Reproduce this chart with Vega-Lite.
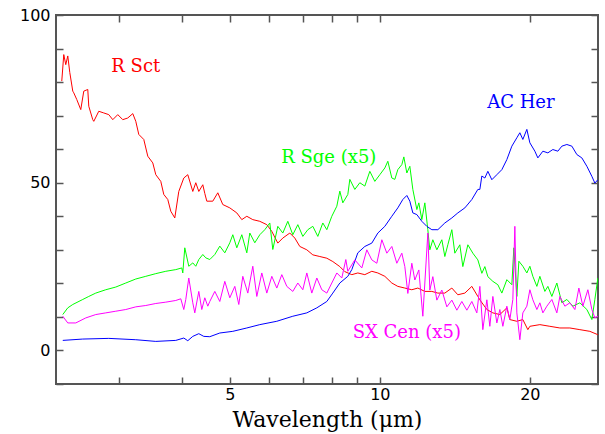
{
  "$schema": "https://vega.github.io/schema/vega-lite/v6.json",
  "autosize": {"type": "none"},
  "padding": {"left": 56, "top": 15, "right": 7, "bottom": 50},
  "width": 542,
  "height": 369,
  "config": {"view": {"stroke": "#555555", "strokeWidth": 2}},
  "datasets": {
    "spec": [
      {"s":"R Sct","w":2.3005,"f":80.3},{"s":"R Sct","w":2.3219,"f":88.2},{"s":"R Sct","w":2.3435,"f":85.2},{"s":"R Sct","w":2.3653,"f":87.8},{"s":"R Sct","w":2.3872,"f":82.9},{"s":"R Sct","w":2.4205,"f":77.3},{"s":"R Sct","w":2.4317,"f":76.8},{"s":"R Sct","w":2.4657,"f":74.8},{"s":"R Sct","w":2.5116,"f":71.8},{"s":"R Sct","w":2.5467,"f":77.3},{"s":"R Sct","w":2.5942,"f":77.8},{"s":"R Sct","w":2.6062,"f":72.8},{"s":"R Sct","w":2.6547,"f":68.8},{"s":"R Sct","w":2.6671,"f":68.3},{"s":"R Sct","w":2.7294,"f":71.3},{"s":"R Sct","w":2.7932,"f":70.8},{"s":"R Sct","w":2.8585,"f":70.3},{"s":"R Sct","w":2.9118,"f":68.8},{"s":"R Sct","w":2.9799,"f":70.3},{"s":"R Sct","w":3.0495,"f":68.8},{"s":"R Sct","w":3.1208,"f":69.3},{"s":"R Sct","w":3.1938,"f":70.6},{"s":"R Sct","w":3.2384,"f":68.3},{"s":"R Sct","w":3.2836,"f":64.4},{"s":"R Sct","w":3.3604,"f":62.9},{"s":"R Sct","w":3.4231,"f":57.9},{"s":"R Sct","w":3.503,"f":55.9},{"s":"R Sct","w":3.552,"f":52.4},{"s":"R Sct","w":3.635,"f":50.4},{"s":"R Sct","w":3.6857,"f":46.5},{"s":"R Sct","w":3.7545,"f":45.0},{"s":"R Sct","w":3.8068,"f":41.5},{"s":"R Sct","w":3.8779,"f":39.5},{"s":"R Sct","w":3.9503,"f":47.4},{"s":"R Sct","w":4.0426,"f":51.4},{"s":"R Sct","w":4.118,"f":52.4},{"s":"R Sct","w":4.2142,"f":47.4},{"s":"R Sct","w":4.2731,"f":50.0},{"s":"R Sct","w":4.3328,"f":47.4},{"s":"R Sct","w":4.4136,"f":49.4},{"s":"R Sct","w":4.4546,"f":46.8},{"s":"R Sct","w":4.496,"f":44.5},{"s":"R Sct","w":4.6222,"f":44.5},{"s":"R Sct","w":4.7303,"f":47},{"s":"R Sct","w":4.8408,"f":43.5},{"s":"R Sct","w":5.0,"f":42.5},{"s":"R Sct","w":5.1645,"f":41},{"s":"R Sct","w":5.285,"f":39},{"s":"R Sct","w":5.4087,"f":40},{"s":"R Sct","w":5.5607,"f":39},{"s":"R Sct","w":5.7435,"f":38.5},{"s":"R Sct","w":5.9324,"f":37.5},{"s":"R Sct","w":6.0708,"f":35.5},{"s":"R Sct","w":6.2417,"f":32},{"s":"R Sct","w":6.3875,"f":33.5},{"s":"R Sct","w":6.5975,"f":35},{"s":"R Sct","w":6.7517,"f":33.5},{"s":"R Sct","w":6.9095,"f":31},{"s":"R Sct","w":7.1368,"f":30},{"s":"R Sct","w":7.3373,"f":28.5},{"s":"R Sct","w":7.5785,"f":28},{"s":"R Sct","w":7.8278,"f":27.5},{"s":"R Sct","w":8.0477,"f":26.5},{"s":"R Sct","w":8.3123,"f":25},{"s":"R Sct","w":8.5066,"f":23.5},{"s":"R Sct","w":8.786,"f":22.6},{"s":"R Sct","w":9.0333,"f":23.1},{"s":"R Sct","w":9.3303,"f":22.6},{"s":"R Sct","w":9.6367,"f":23.6},{"s":"R Sct","w":9.908,"f":23.1},{"s":"R Sct","w":10.234,"f":22.1},{"s":"R Sct","w":10.57,"f":20.1},{"s":"R Sct","w":10.867,"f":19.1},{"s":"R Sct","w":11.225,"f":18.6},{"s":"R Sct","w":11.593,"f":18.1},{"s":"R Sct","w":11.92,"f":18.6},{"s":"R Sct","w":12.311,"f":17.6},{"s":"R Sct","w":12.716,"f":17.6},{"s":"R Sct","w":13.074,"f":17.1},{"s":"R Sct","w":13.503,"f":17.1},{"s":"R Sct","w":13.947,"f":18.6},{"s":"R Sct","w":14.339,"f":16.6},{"s":"R Sct","w":14.811,"f":17.1},{"s":"R Sct","w":15.297,"f":19.1},{"s":"R Sct","w":15.728,"f":16.1},{"s":"R Sct","w":15.874,"f":15.1},{"s":"R Sct","w":16.396,"f":12.2},{"s":"R Sct","w":16.857,"f":11.2},{"s":"R Sct","w":17.411,"f":10.7},{"s":"R Sct","w":17.983,"f":12.7},{"s":"R Sct","w":18.234,"f":9.2},{"s":"R Sct","w":18.834,"f":8.7},{"s":"R Sct","w":19.363,"f":9.2},{"s":"R Sct","w":19.816,"f":6.2},{"s":"R Sct","w":20.0,"f":7.2},{"s":"R Sct","w":20.946,"f":7.7},{"s":"R Sct","w":21.936,"f":7.2},{"s":"R Sct","w":22.974,"f":6.7},{"s":"R Sct","w":24.06,"f":6.7},{"s":"R Sct","w":25.198,"f":6.2},{"s":"R Sct","w":26.39,"f":5.7},{"s":"R Sct","w":27.384,"f":4.7},

      {"s":"R Sge","w":2.3112,"f":10.7},{"s":"R Sge","w":2.3653,"f":12.7},{"s":"R Sge","w":2.4205,"f":13.7},{"s":"R Sge","w":2.5349,"f":15.2},{"s":"R Sge","w":2.6062,"f":16.1},{"s":"R Sge","w":2.6918,"f":17.1},{"s":"R Sge","w":2.8191,"f":18.1},{"s":"R Sge","w":2.9525,"f":18.9},{"s":"R Sge","w":3.0921,"f":20.1},{"s":"R Sge","w":3.2384,"f":21.3},{"s":"R Sge","w":3.3916,"f":22.1},{"s":"R Sge","w":3.552,"f":22.9},{"s":"R Sge","w":3.7199,"f":23.6},{"s":"R Sge","w":3.8959,"f":24.1},{"s":"R Sge","w":4.0052,"f":24.6},{"s":"R Sge","w":4.0239,"f":23.1},{"s":"R Sge","w":4.0613,"f":30.6},{"s":"R Sge","w":4.1371,"f":25.1},{"s":"R Sge","w":4.2142,"f":26.1},{"s":"R Sge","w":4.2731,"f":25.1},{"s":"R Sge","w":4.3328,"f":27.1},{"s":"R Sge","w":4.4136,"f":28.6},{"s":"R Sge","w":4.4752,"f":27.6},{"s":"R Sge","w":4.5586,"f":27.1},{"s":"R Sge","w":4.6652,"f":28.6},{"s":"R Sge","w":4.7742,"f":31.1},{"s":"R Sge","w":4.8858,"f":29.1},{"s":"R Sge","w":5.0,"f":32.1},{"s":"R Sge","w":5.0698,"f":34.5},{"s":"R Sge","w":5.1645,"f":30.6},{"s":"R Sge","w":5.285,"f":34.5},{"s":"R Sge","w":5.4087,"f":29.1},{"s":"R Sge","w":5.4841,"f":35},{"s":"R Sge","w":5.6123,"f":32.1},{"s":"R Sge","w":5.7435,"f":34.5},{"s":"R Sge","w":5.8778,"f":36},{"s":"R Sge","w":6.0151,"f":38},{"s":"R Sge","w":6.0991,"f":30.1},{"s":"R Sge","w":6.2417,"f":37},{"s":"R Sge","w":6.3875,"f":35},{"s":"R Sge","w":6.5369,"f":38.5},{"s":"R Sge","w":6.6896,"f":34.5},{"s":"R Sge","w":6.846,"f":37.5},{"s":"R Sge","w":7.006,"f":34},{"s":"R Sge","w":7.1698,"f":36},{"s":"R Sge","w":7.3373,"f":37},{"s":"R Sge","w":7.5089,"f":34},{"s":"R Sge","w":7.6843,"f":38},{"s":"R Sge","w":7.8278,"f":36},{"s":"R Sge","w":8.0104,"f":40},{"s":"R Sge","w":8.1979,"f":43},{"s":"R Sge","w":8.3123,"f":47.5},{"s":"R Sge","w":8.4283,"f":44},{"s":"R Sge","w":8.6254,"f":46.5},{"s":"R Sge","w":8.7054,"f":51},{"s":"R Sge","w":8.9089,"f":48},{"s":"R Sge","w":9.1171,"f":50},{"s":"R Sge","w":9.3303,"f":49},{"s":"R Sge","w":9.5483,"f":53.4},{"s":"R Sge","w":9.7715,"f":50.4},{"s":"R Sge","w":10.0,"f":52.4},{"s":"R Sge","w":10.234,"f":54.4},{"s":"R Sge","w":10.377,"f":56.4},{"s":"R Sge","w":10.57,"f":51.4},{"s":"R Sge","w":10.718,"f":51},{"s":"R Sge","w":10.867,"f":53.9},{"s":"R Sge","w":11.07,"f":55.4},{"s":"R Sge","w":11.173,"f":57.7},{"s":"R Sge","w":11.329,"f":52.9},{"s":"R Sge","w":11.487,"f":54.9},{"s":"R Sge","w":11.647,"f":48},{"s":"R Sge","w":11.865,"f":42},{"s":"R Sge","w":11.975,"f":44},{"s":"R Sge","w":12.141,"f":39},{"s":"R Sge","w":12.311,"f":44},{"s":"R Sge","w":12.483,"f":36},{"s":"R Sge","w":12.599,"f":30},{"s":"R Sge","w":12.775,"f":33},{"s":"R Sge","w":13.014,"f":30},{"s":"R Sge","w":13.317,"f":33},{"s":"R Sge","w":13.503,"f":28},{"s":"R Sge","w":13.692,"f":31.5},{"s":"R Sge","w":13.947,"f":36},{"s":"R Sge","w":14.142,"f":29},{"s":"R Sge","w":14.472,"f":31.5},{"s":"R Sge","w":14.674,"f":25},{"s":"R Sge","w":15.018,"f":31.5},{"s":"R Sge","w":15.369,"f":29},{"s":"R Sge","w":15.728,"f":27},{"s":"R Sge","w":16.021,"f":23},{"s":"R Sge","w":16.245,"f":25},{"s":"R Sge","w":16.472,"f":22},{"s":"R Sge","w":16.857,"f":20.6},{"s":"R Sge","w":17.251,"f":19.6},{"s":"R Sge","w":17.572,"f":17.1},{"s":"R Sge","w":17.983,"f":21.1},{"s":"R Sge","w":18.403,"f":19.6},{"s":"R Sge","w":18.574,"f":30.6},{"s":"R Sge","w":18.834,"f":16.1},{"s":"R Sge","w":19.009,"f":26.6},{"s":"R Sge","w":19.363,"f":25.1},{"s":"R Sge","w":19.724,"f":23.1},{"s":"R Sge","w":20.0,"f":25.1},{"s":"R Sge","w":20.279,"f":22.1},{"s":"R Sge","w":20.658,"f":19.1},{"s":"R Sge","w":20.946,"f":22.1},{"s":"R Sge","w":21.436,"f":17.6},{"s":"R Sge","w":21.735,"f":19.1},{"s":"R Sge","w":22.139,"f":16.1},{"s":"R Sge","w":22.657,"f":20.1},{"s":"R Sge","w":23.187,"f":14.2},{"s":"R Sge","w":23.73,"f":15.2},{"s":"R Sge","w":24.396,"f":13.2},{"s":"R Sge","w":25.198,"f":14.2},{"s":"R Sge","w":26.027,"f":12.2},{"s":"R Sge","w":26.634,"f":9.2},{"s":"R Sge","w":27.007,"f":15.2},{"s":"R Sge","w":27.384,"f":21.6},

      {"s":"AC Her","w":2.3112,"f":3.0},{"s":"AC Her","w":2.5349,"f":3.4},{"s":"AC Her","w":2.8585,"f":3.6},{"s":"AC Her","w":3.2384,"f":3.2},{"s":"AC Her","w":3.552,"f":2.7},{"s":"AC Her","w":3.8959,"f":3.0},{"s":"AC Her","w":4.0426,"f":3.7},{"s":"AC Her","w":4.118,"f":2.9},{"s":"AC Her","w":4.2142,"f":4.2},{"s":"AC Her","w":4.3328,"f":5.0},{"s":"AC Her","w":4.434,"f":4.2},{"s":"AC Her","w":4.5586,"f":4.1},{"s":"AC Her","w":4.7742,"f":5.2},{"s":"AC Her","w":5.0698,"f":5.7},{"s":"AC Her","w":5.4087,"f":6.7},{"s":"AC Her","w":5.7435,"f":7.7},{"s":"AC Her","w":6.2129,"f":8.7},{"s":"AC Her","w":6.6896,"f":10.2},{"s":"AC Her","w":7.1368,"f":11.2},{"s":"AC Her","w":7.4743,"f":12.7},{"s":"AC Her","w":7.8278,"f":14.6},{"s":"AC Her","w":8.0477,"f":17.1},{"s":"AC Her","w":8.3123,"f":20.1},{"s":"AC Her","w":8.6254,"f":22.1},{"s":"AC Her","w":8.786,"f":24.1},{"s":"AC Her","w":9.0333,"f":29.1},{"s":"AC Her","w":9.3303,"f":31},{"s":"AC Her","w":9.6367,"f":32},{"s":"AC Her","w":9.908,"f":35},{"s":"AC Her","w":10.234,"f":37},{"s":"AC Her","w":10.57,"f":40},{"s":"AC Her","w":10.867,"f":42.5},{"s":"AC Her","w":11.121,"f":45},{"s":"AC Her","w":11.329,"f":46.2},{"s":"AC Her","w":11.487,"f":44.5},{"s":"AC Her","w":11.647,"f":41},{"s":"AC Her","w":11.865,"f":40.5},{"s":"AC Her","w":12.141,"f":38.5},{"s":"AC Her","w":12.426,"f":37},{"s":"AC Her","w":12.716,"f":36},{"s":"AC Her","w":13.074,"f":36},{"s":"AC Her","w":13.503,"f":38},{"s":"AC Her","w":13.947,"f":39.5},{"s":"AC Her","w":14.339,"f":41},{"s":"AC Her","w":14.811,"f":42.5},{"s":"AC Her","w":15.297,"f":45},{"s":"AC Her","w":15.728,"f":48},{"s":"AC Her","w":15.874,"f":48},{"s":"AC Her","w":16.021,"f":52},{"s":"AC Her","w":16.245,"f":51.4},{"s":"AC Her","w":16.472,"f":53.4},{"s":"AC Her","w":16.778,"f":50.9},{"s":"AC Her","w":17.171,"f":52.4},{"s":"AC Her","w":17.572,"f":53.9},{"s":"AC Her","w":17.983,"f":56.9},{"s":"AC Her","w":18.403,"f":60.9},{"s":"AC Her","w":18.834,"f":63.4},{"s":"AC Her","w":19.096,"f":64.9},{"s":"AC Her","w":19.363,"f":62.9},{"s":"AC Her","w":19.724,"f":65.9},{"s":"AC Her","w":20.0,"f":61.9},{"s":"AC Her","w":20.468,"f":59.4},{"s":"AC Her","w":20.753,"f":57.4},{"s":"AC Her","w":21.238,"f":59.4},{"s":"AC Her","w":21.735,"f":58.9},{"s":"AC Her","w":22.242,"f":59.9},{"s":"AC Her","w":22.762,"f":59.4},{"s":"AC Her","w":23.187,"f":60.9},{"s":"AC Her","w":23.73,"f":61.4},{"s":"AC Her","w":24.283,"f":60.9},{"s":"AC Her","w":24.851,"f":58.4},{"s":"AC Her","w":25.431,"f":57.4},{"s":"AC Her","w":26.027,"f":54.9},{"s":"AC Her","w":26.634,"f":51.9},{"s":"AC Her","w":27.007,"f":49.9},{"s":"AC Her","w":27.384,"f":50.9},

      {"s":"SX Cen","w":2.3112,"f":10.2},{"s":"SX Cen","w":2.3653,"f":8.2},{"s":"SX Cen","w":2.4543,"f":8.2},{"s":"SX Cen","w":2.5703,"f":9.7},{"s":"SX Cen","w":2.6918,"f":10.7},{"s":"SX Cen","w":2.8191,"f":11.2},{"s":"SX Cen","w":2.9525,"f":11.7},{"s":"SX Cen","w":3.0921,"f":12.2},{"s":"SX Cen","w":3.2384,"f":13},{"s":"SX Cen","w":3.3916,"f":13.4},{"s":"SX Cen","w":3.552,"f":14},{"s":"SX Cen","w":3.7199,"f":14.4},{"s":"SX Cen","w":3.8959,"f":14.9},{"s":"SX Cen","w":3.9869,"f":15.4},{"s":"SX Cen","w":4.0426,"f":12.2},{"s":"SX Cen","w":4.0801,"f":15.2},{"s":"SX Cen","w":4.1371,"f":21.6},{"s":"SX Cen","w":4.2142,"f":14.2},{"s":"SX Cen","w":4.2534,"f":11.2},{"s":"SX Cen","w":4.3328,"f":17.6},{"s":"SX Cen","w":4.3931,"f":12.2},{"s":"SX Cen","w":4.4546,"f":15.7},{"s":"SX Cen","w":4.5168,"f":13.2},{"s":"SX Cen","w":4.5586,"f":14.6},{"s":"SX Cen","w":4.6652,"f":17.6},{"s":"SX Cen","w":4.7742,"f":14.6},{"s":"SX Cen","w":4.8858,"f":20.6},{"s":"SX Cen","w":5.0,"f":15.7},{"s":"SX Cen","w":5.1169,"f":19.1},{"s":"SX Cen","w":5.2124,"f":13.7},{"s":"SX Cen","w":5.3096,"f":22.1},{"s":"SX Cen","w":5.4338,"f":17.1},{"s":"SX Cen","w":5.5607,"f":25.1},{"s":"SX Cen","w":5.6645,"f":16.1},{"s":"SX Cen","w":5.7967,"f":23.1},{"s":"SX Cen","w":5.9324,"f":17.1},{"s":"SX Cen","w":6.0708,"f":22.1},{"s":"SX Cen","w":6.2129,"f":18.6},{"s":"SX Cen","w":6.3579,"f":22.6},{"s":"SX Cen","w":6.5068,"f":19.1},{"s":"SX Cen","w":6.6896,"f":17.6},{"s":"SX Cen","w":6.846,"f":20.1},{"s":"SX Cen","w":7.006,"f":18.1},{"s":"SX Cen","w":7.1368,"f":23.1},{"s":"SX Cen","w":7.3033,"f":17.1},{"s":"SX Cen","w":7.4743,"f":21.6},{"s":"SX Cen","w":7.6487,"f":18.1},{"s":"SX Cen","w":7.8278,"f":17.1},{"s":"SX Cen","w":8.0104,"f":20.1},{"s":"SX Cen","w":8.1979,"f":23.1},{"s":"SX Cen","w":8.3893,"f":21.6},{"s":"SX Cen","w":8.546,"f":27.1},{"s":"SX Cen","w":8.6254,"f":23.6},{"s":"SX Cen","w":8.9089,"f":27},{"s":"SX Cen","w":9.2015,"f":24.6},{"s":"SX Cen","w":9.417,"f":30},{"s":"SX Cen","w":9.6367,"f":27},{"s":"SX Cen","w":9.8623,"f":26},{"s":"SX Cen","w":10.093,"f":33},{"s":"SX Cen","w":10.329,"f":29},{"s":"SX Cen","w":10.57,"f":31},{"s":"SX Cen","w":10.817,"f":26},{"s":"SX Cen","w":11.07,"f":29},{"s":"SX Cen","w":11.225,"f":25},{"s":"SX Cen","w":11.381,"f":17},{"s":"SX Cen","w":11.593,"f":26},{"s":"SX Cen","w":11.755,"f":21},{"s":"SX Cen","w":11.975,"f":24},{"s":"SX Cen","w":12.198,"f":10.2},{"s":"SX Cen","w":12.483,"f":35},{"s":"SX Cen","w":12.599,"f":18},{"s":"SX Cen","w":12.775,"f":22},{"s":"SX Cen","w":13.014,"f":15},{"s":"SX Cen","w":13.317,"f":18},{"s":"SX Cen","w":13.629,"f":13},{"s":"SX Cen","w":13.947,"f":15},{"s":"SX Cen","w":14.273,"f":12},{"s":"SX Cen","w":14.606,"f":14.6},{"s":"SX Cen","w":14.948,"f":12},{"s":"SX Cen","w":15.297,"f":14.6},{"s":"SX Cen","w":15.655,"f":11.2},{"s":"SX Cen","w":15.874,"f":19.1},{"s":"SX Cen","w":16.095,"f":6.2},{"s":"SX Cen","w":16.396,"f":15.1},{"s":"SX Cen","w":16.624,"f":7.2},{"s":"SX Cen","w":16.857,"f":16.1},{"s":"SX Cen","w":17.171,"f":8.2},{"s":"SX Cen","w":17.411,"f":12.2},{"s":"SX Cen","w":17.654,"f":7.2},{"s":"SX Cen","w":17.983,"f":13.2},{"s":"SX Cen","w":18.234,"f":9.2},{"s":"SX Cen","w":18.489,"f":15.2},{"s":"SX Cen","w":18.66,"f":37},{"s":"SX Cen","w":18.834,"f":11.2},{"s":"SX Cen","w":19.096,"f":3.2},{"s":"SX Cen","w":19.363,"f":11.2},{"s":"SX Cen","w":19.724,"f":13.2},{"s":"SX Cen","w":20.0,"f":18.1},{"s":"SX Cen","w":20.279,"f":15.1},{"s":"SX Cen","w":20.658,"f":12.2},{"s":"SX Cen","w":20.946,"f":14.2},{"s":"SX Cen","w":21.238,"f":11.2},{"s":"SX Cen","w":21.635,"f":13.2},{"s":"SX Cen","w":22.139,"f":15.2},{"s":"SX Cen","w":22.657,"f":11.2},{"s":"SX Cen","w":22.974,"f":16.1},{"s":"SX Cen","w":23.511,"f":13.2},{"s":"SX Cen","w":24.06,"f":14.2},{"s":"SX Cen","w":24.623,"f":12.2},{"s":"SX Cen","w":25.082,"f":18.6},{"s":"SX Cen","w":25.55,"f":13.2},{"s":"SX Cen","w":26.147,"f":18.1},{"s":"SX Cen","w":26.634,"f":12.2},{"s":"SX Cen","w":27.007,"f":9.7},{"s":"SX Cen","w":27.384,"f":10.2}
    ],
    "labels": [
      {"s":"R Sct","txt":"R Sct","w":3.238,"f":84.6},
      {"s":"R Sge","txt":"R Sge (x5)","w":7.9,"f":57.5},
      {"s":"AC Her","txt":"AC Her","w":19.185,"f":73.9},
      {"s":"SX Cen","txt":"SX Cen (x5)","w":11.329,"f":5.3}
    ]
  },
  "resolve": {"axis": {"x": "independent", "y": "independent"}},
  "layer": [
    {
      "data": {"name": "spec"},
      "mark": {"type": "line", "strokeWidth": 1, "clip": true, "interpolate": "linear"},
      "encoding": {
        "x": {"field": "w", "type": "quantitative",
          "scale": {"type": "log", "domain": [2.24, 27.4], "nice": false},
          "axis": {"orient": "bottom", "values": [3,4,5,6,7,8,9,10,20], "labelExpr": "datum.value == 5 || datum.value == 10 || datum.value == 20 ? datum.label : ''",
            "domain": false, "grid": false, "tickSize": -7, "tickColor": "#555555", "tickWidth": 1.5,
            "labelFont": "DejaVu Sans", "labelFontSize": 16, "labelColor": "#000000", "labelPadding": 9,
            "title": "Wavelength (μm)", "titleFont": "DejaVu Serif", "titleFontSize": 22, "titleFontWeight": "normal", "titleColor": "#000000", "titlePadding": 7}},
        "y": {"field": "f", "type": "quantitative",
          "scale": {"domain": [-10, 100], "nice": false},
          "axis": {"orient": "left", "values": [-10,0,10,20,30,40,50,60,70,80,90,100], "labelExpr": "datum.value % 50 == 0 ? datum.label : ''",
            "domain": false, "grid": false, "tickSize": -7, "tickColor": "#555555", "tickWidth": 1.5,
            "labelFont": "DejaVu Sans", "labelFontSize": 16, "labelColor": "#000000", "labelPadding": 13, "title": null}},
        "color": {"field": "s", "type": "nominal",
          "scale": {"domain": ["R Sct","R Sge","AC Her","SX Cen"], "range": ["#ff0000","#00ff00","#0000ff","#ff00ff"]},
          "legend": null}
      }
    },
    {
      "data": {"name": "labels"},
      "mark": {"type": "text", "font": "DejaVu Serif", "fontSize": 18, "align": "center", "baseline": "middle"},
      "encoding": {
        "x": {"field": "w", "type": "quantitative",
          "scale": {"type": "log", "domain": [2.24, 27.4], "nice": false},
          "axis": {"orient": "top", "values": [3,4,5,6,7,8,9,10,20], "labels": false, "domain": false, "grid": false, "tickSize": -7, "tickColor": "#555555", "tickWidth": 1.5, "title": null}},
        "y": {"field": "f", "type": "quantitative",
          "scale": {"domain": [-10, 100], "nice": false},
          "axis": {"orient": "right", "values": [-10,0,10,20,30,40,50,60,70,80,90,100], "labels": false, "domain": false, "grid": false, "tickSize": -7, "tickColor": "#555555", "tickWidth": 1.5, "title": null}},
        "text": {"field": "txt"},
        "color": {"field": "s", "type": "nominal", "legend": null}
      }
    }
  ]
}
